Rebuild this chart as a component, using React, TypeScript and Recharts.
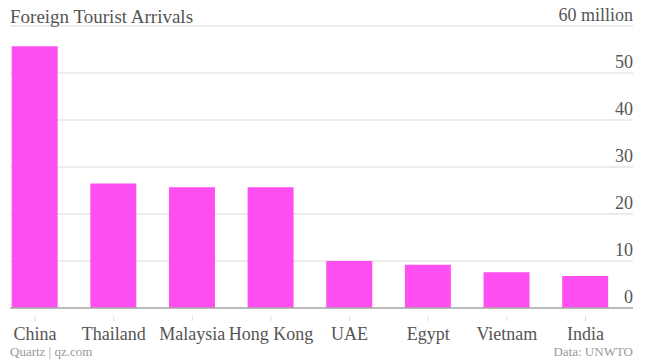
import React from 'react';
import { BarChart, Bar, XAxis, YAxis, CartesianGrid, ReferenceLine } from 'recharts';

const countries = ['China', 'Thailand', 'Malaysia', 'Hong Kong', 'UAE', 'Egypt', 'Vietnam', 'India'];
const arrivals = [55.7, 26.5, 25.7, 25.7, 10.0, 9.2, 7.6, 6.8];
const yTicks = [0, 10, 20, 30, 40, 50, 60];

const data = countries.map((name, i) => ({ idx: i, name, value: arrivals[i] }));

const FONT = '"Liberation Serif", "DejaVu Serif", serif';

const YTick = (props: any) => {
  const { y, payload } = props;
  const label = payload.value === 60 ? '60 million' : String(payload.value);
  return (
    <text x={633} y={y - 5} textAnchor="end" fill="#555" fontSize={18} fontFamily={FONT}>
      {label}
    </text>
  );
};

const XTick = (props: any) => {
  const { x, y, payload } = props;
  return (
    <g>
      <line x1={x} x2={x} y1={y + 8} y2={y + 13} stroke="#dcdcdc" />
      <text x={x} y={y + 32} textAnchor="middle" fill="#555" fontSize={18} fontFamily={FONT}>
        {countries[payload.value]}
      </text>
    </g>
  );
};

export default function App() {
  return (
    <div style={{ position: 'fixed', left: 0, top: 0, width: 645, height: 363, background: '#fff' }}>
      <BarChart width={645} height={363} data={data} margin={{ top: 26, right: 2, bottom: 0, left: 10 }}>
        <CartesianGrid horizontal vertical={false} stroke="#e6e6e6" strokeWidth={1.5} />
        <XAxis
          type="number"
          dataKey="idx"
          domain={[-0.318, 7.604]}
          ticks={[0, 1, 2, 3, 4, 5, 6, 7]}
          interval={0}
          axisLine={false}
          tickLine={false}
          tickSize={0}
          tickMargin={0}
          height={55}
          tick={<XTick />}
        />
        <YAxis
          orientation="right"
          domain={[0, 60]}
          ticks={yTicks}
          width={10}
          axisLine={false}
          tickLine={false}
          tick={<YTick />}
        />
        <ReferenceLine y={0} stroke="#aaa" strokeWidth={1.5} />
        <Bar dataKey="value" fill="#ff4ff0" barSize={46} isAnimationActive={false} />
      </BarChart>
      <div style={{ position: 'absolute', left: 10, top: 6, fontFamily: FONT, fontSize: 19, color: '#555' }}>
        Foreign Tourist Arrivals
      </div>
      <div style={{ position: 'absolute', left: 10, top: 344, fontFamily: FONT, fontSize: 13, color: '#999' }}>
        Quartz | qz.com
      </div>
      <div style={{ position: 'absolute', right: 12, top: 344, fontFamily: FONT, fontSize: 13, color: '#999' }}>
        Data: UNWTO
      </div>
    </div>
  );
}
